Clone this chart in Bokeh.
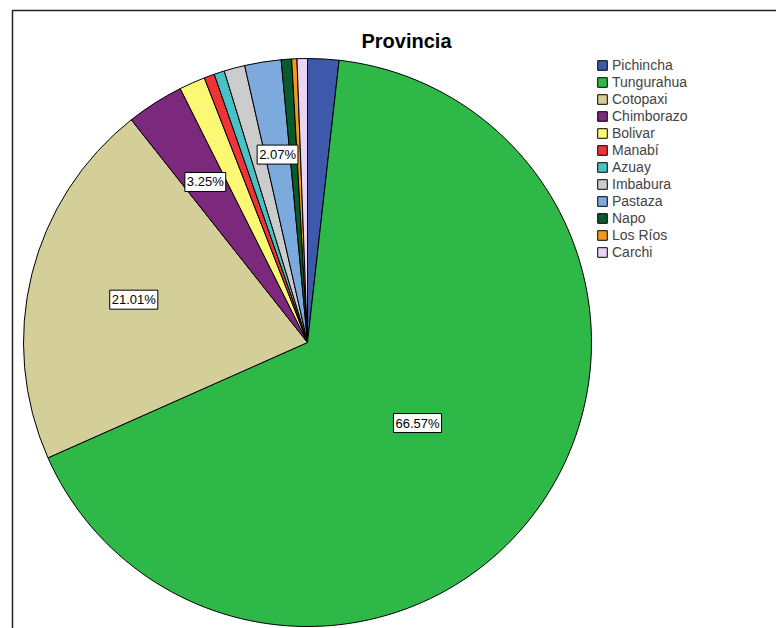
import numpy as np
from bokeh.plotting import figure
from bokeh.models import Range1d, Legend, LegendItem, ColumnDataSource
from bokeh.core.properties import value
from bokeh.embed import file_html
from bokeh.resources import INLINE

# ---- data ----
provinces = ["Pichincha", "Tungurahua", "Cotopaxi", "Chimborazo", "Bolivar", "Manabí",
             "Azuay", "Imbabura", "Pastaza", "Napo", "Los Ríos", "Carchi"]
counts = [6, 225, 71, 11, 5, 2, 2, 4, 7, 2, 1, 2]
colors = ["#3E58AC", "#2EB848", "#D4CE98", "#7C287D", "#FBF873", "#EF3338",
          "#48C2C5", "#CCCCCC", "#7DAADC", "#0B5A2E", "#F29A1E", "#EAD3F3"]
labelled = ["Tungurahua", "Cotopaxi", "Chimborazo", "Pastaza"]
title_text = "Provincia"

# ---- styling / geometry ----
W, H = 776, 628
cx, cy, R = 307, 286, 284
label_rfrac = {"Tungurahua": 0.48, "Cotopaxi": 0.63, "Chimborazo": 0.67, "Pastaza": 0.67}
FONT = "Liberation Sans"

total = float(sum(counts))
frac = np.array(counts) / total
cum = np.concatenate([[0.0], np.cumsum(frac)])
start = np.pi / 2 - 2 * np.pi * cum[:-1]
end = np.pi / 2 - 2 * np.pi * cum[1:]

src = ColumnDataSource(dict(prov=provinces, start=start, end=end, color=colors,
                            x=[cx] * len(provinces), y=[cy] * len(provinces)))

p = figure(width=W, height=H, x_range=Range1d(0, W), y_range=Range1d(0, H),
           output_backend="svg", toolbar_location=None, min_border=0,
           x_axis_type=None, y_axis_type=None)
p.grid.visible = False
p.outline_line_color = None
p.background_fill_color = "white"

# SPSS-like frame (left and top edges visible)
p.line(x=[12, 12, W + 10], y=[-10, 618, 618], line_color="#222222", line_width=1.5)

wr = p.wedge(x="x", y="y", radius=R, start_angle="start", end_angle="end",
             direction="clock", fill_color="color", line_color="black",
             line_width=1, source=src)

# percent labels
lx, ly, lt = [], [], []
for i, name in enumerate(provinces):
    if name in labelled:
        mid = (start[i] + end[i]) / 2
        r = R * label_rfrac[name]
        lx.append(cx + r * np.cos(mid))
        ly.append(cy + r * np.sin(mid))
        lt.append(f"{counts[i] / total * 100:.2f}%")
p.text(x=lx, y=ly, text=lt, text_align="center", text_baseline="middle",
       text_font=value(FONT), text_font_size="13px", text_color="black",
       background_fill_color="white", border_line_color="black",
       border_line_width=1, padding=2)

# title
p.text(x=[406], y=[588], text=[title_text], text_align="center",
       text_baseline="middle", text_font=value(FONT), text_font_size="20px",
       text_font_style="bold", text_color="black")

items = [LegendItem(label=name, renderers=[wr], index=i) for i, name in enumerate(provinces)]
legend = Legend(items=items, location=(596, 368), label_text_font=FONT,
                label_text_font_size="14px", glyph_width=12, glyph_height=12,
                label_height=12, spacing=1, padding=0, margin=0, label_standoff=4,
                border_line_color=None, background_fill_alpha=0)
p.add_layout(legend, "center")

open("out.html", "w").write(file_html(p, INLINE))
